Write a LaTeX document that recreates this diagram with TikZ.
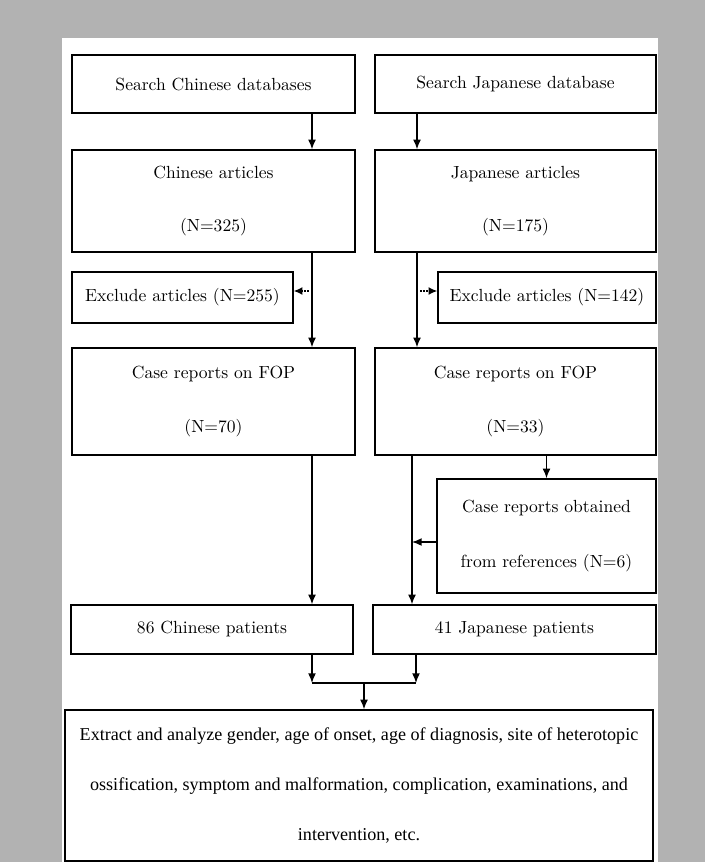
\documentclass[tikz,border=0pt]{standalone}
\usepackage{fontspec}
\newfontfamily\timesfont{Liberation Serif}
\usepackage{tikz}
\usetikzlibrary{arrows,arrows.meta,positioning,calc}

\tikzset{
  box/.style={draw, line width=0.8pt, inner sep=0pt, align=center},
  arr/.style={line width=0.8pt, -{Latex[length=5.5pt,width=4.5pt]}},
  dots/.style={line width=0.8pt, densely dotted, -{Latex[length=5pt,width=4.5pt]}},
}

\begin{document}
\begin{tikzpicture}[x=0.02cm, y=-0.02cm]
      \useasboundingbox (0,0) rectangle (705,862);
      \fill[black!30] (0,0) rectangle (705,862);
      \fill[white] (62,38) rectangle (658,862);

      \node (sc) at (213.5,84) [box, minimum width=5.66cm, minimum height=1.16cm] {Search Chinese databases};
      \node (sj) at (515.5,84) [box, minimum width=5.62cm, minimum height=1.16cm] {Search Japanese database};
      \node (ca) at (213.5,201) [box, minimum width=5.66cm, minimum height=2.04cm] {Chinese articles\\[18pt](N=325)};
      \node (ja) at (515.5,201) [box, minimum width=5.62cm, minimum height=2.04cm] {Japanese articles\\[18pt](N=175)};
      \node (exc) at (182.5,297.5) [box, minimum width=4.42cm, minimum height=1.02cm] {Exclude articles (N=255)};
      \node (exj) at (547,297.5) [box, minimum width=4.36cm, minimum height=1.02cm] {Exclude articles (N=142)};
      \node (cr) at (213.5,401.5) [box, minimum width=5.66cm, minimum height=2.14cm] {Case reports on FOP\\[18.5pt](N=70)};
      \node (jr) at (515.5,401.5) [box, minimum width=5.62cm, minimum height=2.14cm] {Case reports on FOP\\[18.5pt](N=33)};
      \node (obt) at (546.5,536) [box, minimum width=4.38cm, minimum height=2.28cm] {Case reports obtained\\[19pt]from references (N=6)};
      \node (cp) at (212,629.5) [box, minimum width=5.64cm, minimum height=0.98cm] {86 Chinese patients};
      \node (jp) at (514.5,629.5) [box, minimum width=5.66cm, minimum height=0.98cm] {41 Japanese patients};
      \node (ext) at (359,785.5) [box, minimum width=11.76cm, minimum height=3.02cm, font=\timesfont\fontsize{10.3}{12}\selectfont]
        {Extract and analyze gender, age of onset, age of diagnosis, site of heterotopic\\[16.5pt]
         ossification, symptom and malformation, complication, examinations, and\\[16.5pt]
         intervention, etc.};

      \coordinate (cl) at (312,291);
      \coordinate (jl) at (417,291);
      \coordinate (jm) at (412,542);
      \coordinate (ml) at (312,683);
      \coordinate (mr) at (416,683);
      \coordinate (mm) at (364,683);

      \draw[arr] (sc.south -| cl) -- (ca.north -| cl);
      \draw[arr] (sj.south -| jl) -- (ja.north -| jl);
      \draw[arr] (ca.south -| cl) -- (cr.north -| cl);
      \draw[arr] (ja.south -| jl) -- (jr.north -| jl);
      \draw[dots] (cl) -- (exc.east |- cl);
      \draw[dots] (jl) -- (exj.west |- jl);

      \draw[arr] (jr.south -| obt.north) -- (obt.north);
      \draw[arr] (obt.west |- jm) -- (jm);
      \draw[arr] (jr.south -| jm) -- (jp.north -| jm);
      \draw[arr] (cr.south -| cl) -- (cp.north -| cl);

      \draw[arr] (cp.south -| ml) -- (ml);
      \draw[arr] (jp.south -| mr) -- (mr);
      \draw[line width=0.8pt] (ml) -- (mr);
      \draw[arr] (mm) -- (ext.north -| mm);

\end{tikzpicture}
\end{document}
